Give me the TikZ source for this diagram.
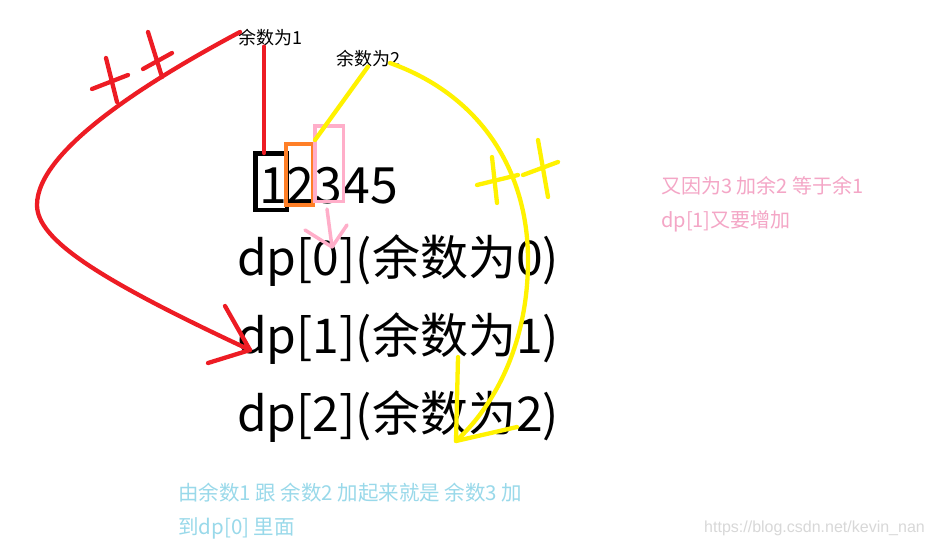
\documentclass[tikz,border=0pt]{standalone}
\usepackage{fontspec}
\setmainfont{Noto Sans CJK SC}
\newfontfamily\wmfont{Liberation Sans}
\definecolor{pred}{HTML}{ED1C24}
\definecolor{pyellow}{HTML}{FFF200}
\definecolor{porange}{HTML}{FF7F27}
\definecolor{ppink}{HTML}{FFAEC9}
\definecolor{ptextpink}{HTML}{F4A6C6}
\definecolor{ptextblue}{HTML}{99D9EA}
\definecolor{pwm}{HTML}{D8D8D8}
\tikzset{
  pen/.style={line width=4.3pt, line cap=round, line join=round},
  redpen/.style={pen, draw=pred},
  yellowpen/.style={pen, draw=pyellow},
  pinkpen/.style={pen, draw=ppink, line width=3.5pt},
  smalllabel/.style={inner sep=0pt, font=\fontsize{18}{20}\selectfont},
  numtext/.style={inner sep=0pt, font=\fontsize{50}{56}\selectfont},
  bigtext/.style={inner sep=0pt, font=\fontsize{48}{54}\selectfont},
  note/.style={inner sep=0pt, font=\fontsize{20}{22}\selectfont},
  digitbox/.style={draw, inner sep=0pt},
}
\begin{document}
\begin{tikzpicture}[x=1pt,y=-1pt]
\useasboundingbox[fill=white] (0,0) rectangle (933,546);

% labels
\node[smalllabel] (l1) at (270,38) {余数为1};
\node[smalllabel] (l2) at (368,59) {余数为2};

% big texts
\node[numtext, anchor=base west] (num) at (259,203) {12345};
\node[bigtext, anchor=base west] (r0) at (237,275) {dp[0](余数为0)};
\node[bigtext, anchor=base west] (r1) at (237,353) {dp[1](余数为1)};
\node[bigtext, anchor=base west] (r2) at (237,431) {dp[2](余数为2)};

% digit boxes
\node[digitbox, draw=black, line width=4.5pt, minimum width=31.5pt, minimum height=56.5pt] (b1) at (271,181.5) {};
\node[digitbox, draw=porange, line width=4pt, minimum width=27pt, minimum height=61pt] (b2) at (299.5,174.5) {};
\node[digitbox, draw=ppink, line width=3.5pt, minimum width=28.5pt, minimum height=75.5pt] (b3) at (329,163.5) {};

% notes
\node[note, text=ptextpink, anchor=west] (n1) at (661,186) {又因为3 加余2 等于余1};
\node[note, text=ptextpink, anchor=west] (n2) at (661,221) {dp[1]又要增加};
\node[note, text=ptextblue, anchor=west, font=\fontsize{20.5}{22}\selectfont] (n3) at (178,493) {由余数1 跟 余数2 加起来就是 余数3 加};
\node[note, text=ptextblue, anchor=west, font=\fontsize{20.5}{22}\selectfont] (n4) at (178,528) {到dp[0] 里面};
\node[inner sep=0pt, anchor=east, text=pwm, font=\wmfont\fontsize{16}{18}\selectfont] (wm) at (925,528) {https://blog.csdn.net/kevin\_nan};

% coordinates for free ends
\coordinate (redstart) at (240,32);
\coordinate (redtip) at (250,350);
\coordinate (ystart) at (390,63);
\coordinate (ytip) at (456,441);
\coordinate (pinktip) at (332,247);

% red line from label 1 to box 1
\draw[redpen] ([xshift=-6pt]l1.south) -- ([xshift=-7pt,yshift=-2pt]b1.north);
% red curve to dp[1]
\draw[redpen] (redstart) .. controls (150,80) and (37,150) .. (37,205)
  .. controls (37,240) and (100,280) .. (redtip);
\draw[redpen] (225,306) -- (redtip) -- (208,363);
% red ++
\draw[redpen] (106,58) -- (117,102);
\draw[redpen] (92,89) -- (128,75);
\draw[redpen] (148,32) -- (162,77);
\draw[redpen] (143,69) -- (172,53);

% yellow line from label 2 to box
\draw[yellowpen] (l2.south) ++(0,-1) -- (315,140);
% yellow curve to dp[2]
\draw[yellowpen] (ystart) .. controls (480,95) and (528,170) .. (528,260)
  .. controls (528,350) and (490,410) .. (ytip);
\draw[yellowpen] (458,357) -- (ytip) -- (517,427);
% yellow ++
\draw[yellowpen] (492,157) -- (497,203);
\draw[yellowpen] (477,185) -- (518,175);
\draw[yellowpen] (538,140) -- (548,197);
\draw[yellowpen] (523,175) -- (558,162);

% pink arrow from box 3 to dp[0]
\draw[pinkpen] ([xshift=-2pt,yshift=-6pt]b3.south) -- (pinktip);
\draw[pinkpen] (305,230) -- (pinktip) -- (347,225);
\end{tikzpicture}
\end{document}
